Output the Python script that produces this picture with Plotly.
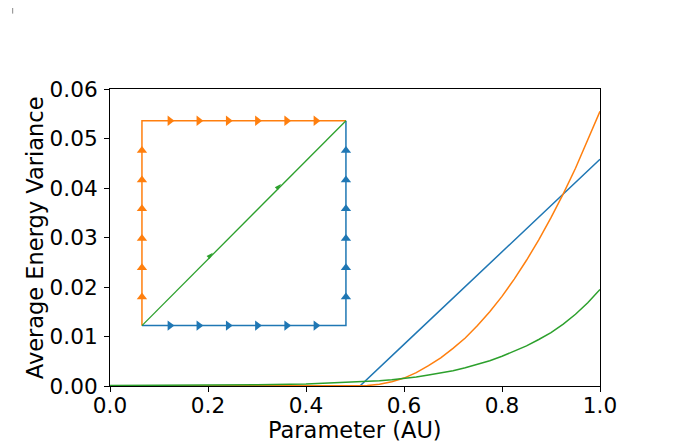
import plotly.graph_objects as go

# ---- main curves ----
blue_x = [0.0, 0.1, 0.2, 0.3, 0.4, 0.51, 0.6, 0.7, 0.8, 0.9, 1.0]
blue_y = [0.0, 0.0, 0.0, 0.0, 0.0, 0.0, 0.0084, 0.0178, 0.0271, 0.0365, 0.0458]

curve_x = [0.0, 0.1, 0.2, 0.3, 0.4, 0.5, 0.525, 0.55, 0.575, 0.6, 0.625, 0.65, 0.675, 0.7, 0.725,
           0.75, 0.775, 0.8, 0.825, 0.85, 0.875, 0.9, 0.925, 0.95, 0.975, 1.0]
orange_y = [0.0, 0.0, 0.0, 0.0, 0.0, 0.0, 0.00008, 0.00036, 0.00087, 0.0016, 0.0027, 0.0041, 0.0057,
            0.0076, 0.0097, 0.0122, 0.0150, 0.0181, 0.0216, 0.0254, 0.0295, 0.0340, 0.0388, 0.0440,
            0.0496, 0.0555]
green_y = [0.0001, 0.0001, 0.00015, 0.00025, 0.00042, 0.00075, 0.0009, 0.00105, 0.00125, 0.0015, 0.0018,
           0.0022, 0.0026, 0.0031, 0.0037, 0.0044, 0.0051, 0.0060, 0.0070, 0.0081, 0.0094, 0.0108,
           0.0125, 0.0145, 0.0168, 0.0195]

# ---- inset path (square with arrows) ----
inset_left, inset_right = 0.0652, 0.4815
inset_bottom, inset_top = 0.0122, 0.0536
orange_path_x = [inset_left, inset_left, inset_right]
orange_path_y = [inset_bottom, inset_top, inset_top]
blue_path_x = [inset_left, inset_right, inset_right]
blue_path_y = [inset_bottom, inset_bottom, inset_top]
green_path_x = [inset_left, inset_right]
green_path_y = [inset_bottom, inset_top]

arrow_x = [0.1222, 0.1813, 0.2412, 0.3008, 0.3605, 0.4202]
arrow_y = [0.0180, 0.0239, 0.0298, 0.0358, 0.0416, 0.0476]
green_arrow_x = [0.2098, 0.3491]
green_arrow_y = [0.0269, 0.0408]

x_ticks = [0.0, 0.2, 0.4, 0.6, 0.8, 1.0]
y_ticks = [0.00, 0.01, 0.02, 0.03, 0.04, 0.05, 0.06]
x_title = "Parameter (AU)"
y_title = "Average Energy Variance"

BLUE, ORANGE, GREEN = "#1f77b4", "#ff7f0e", "#2ca02c"
FONT = "DejaVu Sans"
FS = 21.6
FS_TITLE = 22.5

fig = go.Figure()
fig.add_trace(go.Scatter(x=blue_x, y=blue_y, mode="lines", line=dict(color=BLUE, width=1.5)))
fig.add_trace(go.Scatter(x=curve_x, y=orange_y, mode="lines", line=dict(color=ORANGE, width=1.5)))
fig.add_trace(go.Scatter(x=curve_x, y=green_y, mode="lines", line=dict(color=GREEN, width=1.5)))

# inset lines
fig.add_trace(go.Scatter(x=orange_path_x, y=orange_path_y, mode="lines", line=dict(color=ORANGE, width=1.5)))
fig.add_trace(go.Scatter(x=blue_path_x, y=blue_path_y, mode="lines", line=dict(color=BLUE, width=1.5)))
fig.add_trace(go.Scatter(x=green_path_x, y=green_path_y, mode="lines", line=dict(color=GREEN, width=1.3)))

# inset arrow markers
n = len(arrow_x)
fig.add_trace(go.Scatter(x=[inset_left] * n, y=arrow_y, mode="markers",
                         marker=dict(symbol="triangle-up", size=9, color=ORANGE)))
fig.add_trace(go.Scatter(x=arrow_x, y=[inset_top] * n, mode="markers",
                         marker=dict(symbol="triangle-right", size=9, color=ORANGE)))
fig.add_trace(go.Scatter(x=arrow_x, y=[inset_bottom] * n, mode="markers",
                         marker=dict(symbol="triangle-right", size=9, color=BLUE)))
fig.add_trace(go.Scatter(x=[inset_right] * n, y=arrow_y, mode="markers",
                         marker=dict(symbol="triangle-up", size=9, color=BLUE)))
fig.add_trace(go.Scatter(x=green_arrow_x, y=green_arrow_y, mode="markers",
                         marker=dict(symbol="arrow", size=7, angle=45, color=GREEN)))

axis_common = dict(
    showline=True, linecolor="black", linewidth=1, mirror=True,
    ticks="outside", ticklen=5, tickwidth=1, tickcolor="black",
    showgrid=False, zeroline=False, automargin=False,
    tickfont=dict(family=FONT, size=FS, color="black"),
)

# page body adds an 8px offset; figure sized so it fits the 696x445 window
fig.update_layout(
    width=688, height=437,
    margin=dict(l=102, r=96, t=81, b=59),
    paper_bgcolor="white", plot_bgcolor="white",
    showlegend=False,
    xaxis=dict(range=[0, 1], tickvals=x_ticks, ticktext=[f"{v:.1f}" for v in x_ticks],
               ticklabelstandoff=-5, **axis_common),
    yaxis=dict(range=[0, 0.06], tickvals=y_ticks, ticktext=[f"{v:.2f}" for v in y_ticks],
               ticklabelstandoff=2, **axis_common),
    annotations=[
        dict(text=x_title, xref="paper", yref="paper", x=0.5, y=-0.148, xanchor="center", yanchor="middle",
             showarrow=False, font=dict(family=FONT, size=FS_TITLE, color="black")),
        dict(text=y_title, xref="paper", yref="paper", x=-0.1537, y=0.5, xanchor="center", yanchor="middle",
             textangle=-90, showarrow=False, font=dict(family=FONT, size=FS_TITLE, color="black")),
    ],
    shapes=[dict(type="line", xref="paper", yref="paper", x0=-0.1986, x1=-0.1986, y0=1.2538, y1=1.301,
                 line=dict(color="#888888", width=1))],
)

fig.write_html("out.html")
